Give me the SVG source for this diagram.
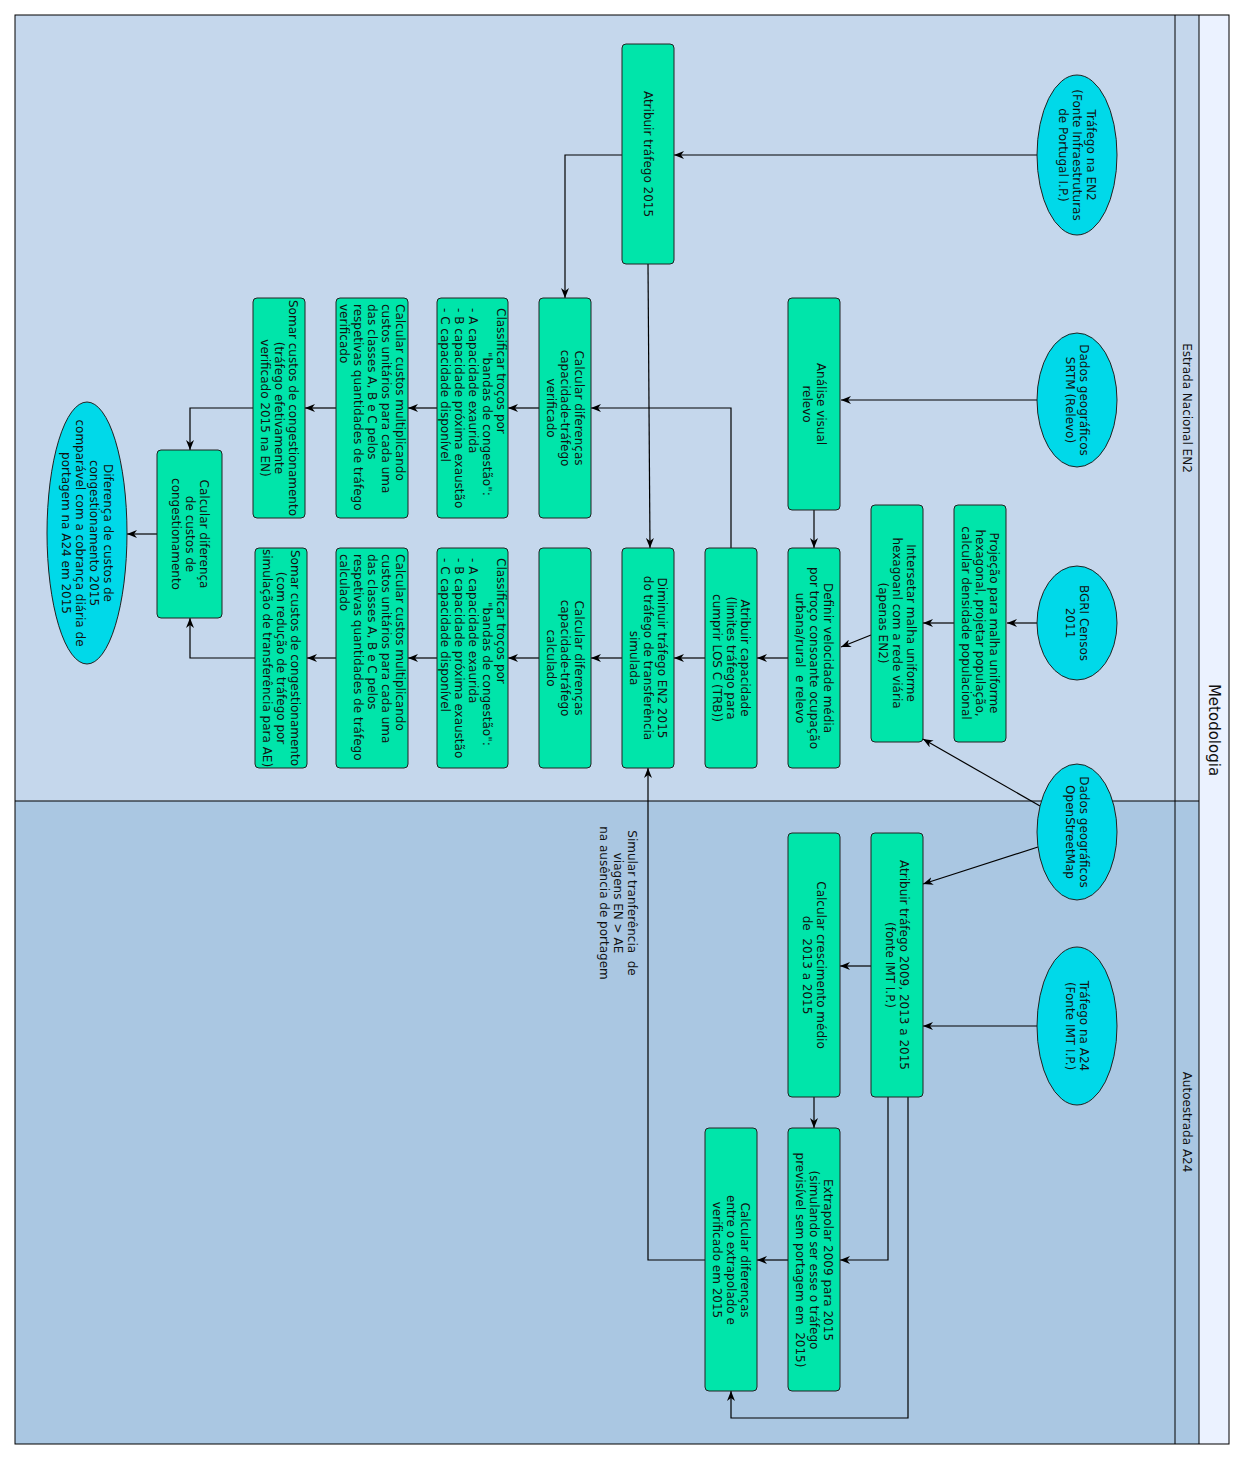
<svg xmlns="http://www.w3.org/2000/svg" width="1245" height="1460" viewBox="0 0 1245 1460">
<style>
text{font-family:"DejaVu Sans","Liberation Sans",sans-serif;font-size:12px;fill:#111}
.c{text-anchor:middle}
.s{text-anchor:start}
.box{fill:#00E5AA;stroke:#222;stroke-width:1}
.ell{fill:#00D9E9;stroke:#222;stroke-width:1}
.conn path{fill:none;stroke:#000;stroke-width:1.2;marker-end:url(#arr)}
</style>
<defs>
<marker id="arr" viewBox="0 0 10 8" refX="10" refY="4" markerWidth="10" markerHeight="8" orient="auto" markerUnits="userSpaceOnUse">
<path d="M0,0 L10,4 L0,8 L3,4 Z" fill="#000"/>
</marker>
</defs>
<g id="pool">
<rect x="15" y="15" width="1184" height="786" fill="#C5D7EC"/>
<rect x="15" y="801" width="1184" height="643" fill="#AAC7E2"/>
<rect x="1199" y="15" width="30" height="1429" fill="#EBF2FF"/>
<rect x="15" y="15" width="1214" height="1429" fill="none" stroke="#000" stroke-width="1"/>
<line x1="1175" y1="15" x2="1175" y2="1444" stroke="#000"/>
<line x1="1199" y1="15" x2="1199" y2="1444" stroke="#000"/>
<line x1="15" y1="801" x2="1199" y2="801" stroke="#000"/>
<text class="c" style="font-size:15px" transform="translate(1214,730) rotate(90)" y="5">Metodologia</text>
<text class="c" transform="translate(1187,408) rotate(90)" y="4">Estrada Nacional EN2</text>
<text class="c" transform="translate(1187,1122) rotate(90)" y="4">Autoestrada A24</text>
</g>
<g id="connectors" class="conn">
<path d="M1037,155 H674"/>
<path d="M622,155 H565 V298"/>
<path d="M648,264 L650,548"/>
<path d="M1037,400 H841"/>
<path d="M814,510 V548"/>
<path d="M1037,623 H1007"/>
<path d="M954,623 H923"/>
<path d="M871,635 L841,647"/>
<path d="M1040,806 L923,739"/>
<path d="M1038,847 L923,884"/>
<path d="M788,658 H757"/>
<path d="M705,658 H674"/>
<path d="M731,548 V408 H591"/>
<path d="M622,658 H591"/>
<path d="M539,408 H508"/>
<path d="M437,408 H408"/>
<path d="M336,408 H305"/>
<path d="M253,408 H190 V450"/>
<path d="M539,658 H508"/>
<path d="M437,658 H408"/>
<path d="M336,658 H307"/>
<path d="M255,658 H190 V618"/>
<path d="M157,534 H127"/>
<path d="M1037,1026 H923"/>
<path d="M871,966 H840"/>
<path d="M814,1097 V1128"/>
<path d="M888,1097 V1260 H840"/>
<path d="M908,1097 V1418 H731 V1391"/>
<path d="M788,1260 H757"/>
<path d="M705,1260 H648 V768"/>
</g>
<g id="label-simular">
<text class="c" xml:space="preserve" transform="translate(618,903) rotate(90)"><tspan x="0" y="-10">Simular tranferência  de</tspan><tspan x="0" y="4">viagens EN &gt; AE</tspan><tspan x="0" y="18">na ausência de portagem</tspan></text>
</g>
<g id="e-trafego-en2">
<ellipse class="ell" cx="1077" cy="155" rx="40" ry="80"/>
<text class="c" transform="translate(1077,155) rotate(90)"><tspan x="0" y="-10">Tráfego na EN2</tspan><tspan x="0" y="4">(Fonte Infraestruturas</tspan><tspan x="0" y="18">de Portugal I.P.)</tspan></text>
</g>
<g id="e-srtm">
<ellipse class="ell" cx="1077" cy="400" rx="40" ry="67"/>
<text class="c" transform="translate(1077,400) rotate(90)"><tspan x="0" y="-3">Dados geográficos</tspan><tspan x="0" y="11">SRTM (Relevo)</tspan></text>
</g>
<g id="e-bgri">
<ellipse class="ell" cx="1077" cy="623" rx="40" ry="57"/>
<text class="c" transform="translate(1077,623) rotate(90)"><tspan x="0" y="-3">BGRI Censos</tspan><tspan x="0" y="11">2011</tspan></text>
</g>
<g id="e-osm">
<ellipse class="ell" cx="1077" cy="832" rx="40" ry="68"/>
<text class="c" transform="translate(1077,832) rotate(90)"><tspan x="0" y="-3">Dados geográficos</tspan><tspan x="0" y="11">OpenStreetMap</tspan></text>
</g>
<g id="e-trafego-a24">
<ellipse class="ell" cx="1077" cy="1026" rx="40" ry="79"/>
<text class="c" transform="translate(1077,1026) rotate(90)"><tspan x="0" y="-3">Tráfego na A24</tspan><tspan x="0" y="11">(Fonte IMT I.P.)</tspan></text>
</g>
<g id="e-resultado">
<ellipse class="ell" cx="87" cy="533" rx="40" ry="131"/>
<text class="c" transform="translate(87,533) rotate(90)"><tspan x="0" y="-17">Diferença de custos de</tspan><tspan x="0" y="-3">congestionamento 2015</tspan><tspan x="0" y="11">comparável com a cobrança diária de</tspan><tspan x="0" y="25">portagem na A24 em 2015</tspan></text>
</g>
<g id="n-atribuir-2015">
<rect class="box" x="622" y="44" width="52" height="220" rx="4"/>
<text class="c" transform="translate(648,154) rotate(90)" y="4">Atribuir tráfego 2015</text>
</g>
<g id="n-analise-relevo">
<rect class="box" x="788" y="298" width="52" height="212" rx="4"/>
<text class="c" transform="translate(814,404) rotate(90)"><tspan x="0" y="-3">Análise visual</tspan><tspan x="0" y="11">relevo</tspan></text>
</g>
<g id="n-projecao">
<rect class="box" x="954" y="505" width="52" height="237" rx="4"/>
<text class="c" transform="translate(980,623) rotate(90)"><tspan x="0" y="-10">Projeção para malha uniforme</tspan><tspan x="0" y="4">hexagonal, projetar população,</tspan><tspan x="0" y="18">calcular densidade populacional</tspan></text>
</g>
<g id="n-intersetar">
<rect class="box" x="871" y="505" width="52" height="237" rx="4"/>
<text class="c" transform="translate(897,623) rotate(90)"><tspan x="0" y="-10">Intersetar malha uniforme</tspan><tspan x="0" y="4">hexagoanl com a rede viária</tspan><tspan x="0" y="18">(apenas EN2)</tspan></text>
</g>
<g id="n-definir-velocidade">
<rect class="box" x="788" y="548" width="52" height="220" rx="4"/>
<text class="c" xml:space="preserve" transform="translate(814,658) rotate(90)"><tspan x="0" y="-10">Definir velocidade média</tspan><tspan x="0" y="4">por troço consoante ocupação</tspan><tspan x="0" y="18">urbana/rural  e relevo</tspan></text>
</g>
<g id="n-atribuir-capacidade">
<rect class="box" x="705" y="548" width="52" height="220" rx="4"/>
<text class="c" transform="translate(731,658) rotate(90)"><tspan x="0" y="-10">Atribuir capacidade</tspan><tspan x="0" y="4">(limites tráfego para</tspan><tspan x="0" y="18">cumprir LOS C (TRB))</tspan></text>
</g>
<g id="n-diminuir">
<rect class="box" x="622" y="548" width="52" height="220" rx="4"/>
<text class="c" transform="translate(648,658) rotate(90)"><tspan x="0" y="-10">Diminuir tráfego EN2 2015</tspan><tspan x="0" y="4">do tráfego de transferência</tspan><tspan x="0" y="18">simulada</tspan></text>
</g>
<g id="n-dif-verificado">
<rect class="box" x="539" y="298" width="52" height="220" rx="4"/>
<text class="c" transform="translate(565,408) rotate(90)"><tspan x="0" y="-10">Calcular diferenças</tspan><tspan x="0" y="4">capacidade-tráfego</tspan><tspan x="0" y="18">verificado</tspan></text>
</g>
<g id="n-classificar-verificado">
<rect class="box" x="437" y="298" width="71" height="220" rx="4"/>
<text class="s" transform="translate(472.5,308) rotate(90)"><tspan x="0" y="-24">Classificar troços por</tspan><tspan x="44" y="-10">"bandas de congestão":</tspan><tspan x="0" y="4">- A capacidade exaurida</tspan><tspan x="0" y="18">- B capacidade próxima exaustão</tspan><tspan x="0" y="32">- C capacidade disponível</tspan></text>
</g>
<g id="n-custos-verificado">
<rect class="box" x="336" y="298" width="72" height="220" rx="4"/>
<text class="s" transform="translate(372,304) rotate(90)"><tspan x="0" y="-24">Calcular custos multiplicando</tspan><tspan x="0" y="-10">custos unitários para cada uma</tspan><tspan x="0" y="4">das classes A, B e C pelos</tspan><tspan x="0" y="18">respetivas quantidades de tráfego</tspan><tspan x="0" y="32">verificado</tspan></text>
</g>
<g id="n-somar-verificado">
<rect class="box" x="253" y="298" width="52" height="220" rx="4"/>
<text class="c" transform="translate(279,408) rotate(90)"><tspan x="0" y="-10">Somar custos de congestionamento</tspan><tspan x="0" y="4">(tráfego efetivamente</tspan><tspan x="0" y="18">verificado 2015 na EN)</tspan></text>
</g>
<g id="n-dif-calculado">
<rect class="box" x="539" y="548" width="52" height="220" rx="4"/>
<text class="c" transform="translate(565,658) rotate(90)"><tspan x="0" y="-10">Calcular diferenças</tspan><tspan x="0" y="4">capacidade-tráfego</tspan><tspan x="0" y="18">calculado</tspan></text>
</g>
<g id="n-classificar-calculado">
<rect class="box" x="437" y="548" width="71" height="220" rx="4"/>
<text class="s" transform="translate(472.5,558) rotate(90)"><tspan x="0" y="-24">Classificar troços por</tspan><tspan x="44" y="-10">"bandas de congestão":</tspan><tspan x="0" y="4">- A capacidade exaurida</tspan><tspan x="0" y="18">- B capacidade próxima exaustão</tspan><tspan x="0" y="32">- C capacidade disponível</tspan></text>
</g>
<g id="n-custos-calculado">
<rect class="box" x="336" y="548" width="72" height="220" rx="4"/>
<text class="s" transform="translate(372,554) rotate(90)"><tspan x="0" y="-24">Calcular custos multiplicando</tspan><tspan x="0" y="-10">custos unitários para cada uma</tspan><tspan x="0" y="4">das classes A, B e C pelos</tspan><tspan x="0" y="18">respetivas quantidades de tráfego</tspan><tspan x="0" y="32">calculado</tspan></text>
</g>
<g id="n-somar-calculado">
<rect class="box" x="255" y="548" width="52" height="220" rx="4"/>
<text class="c" transform="translate(281,658) rotate(90)"><tspan x="0" y="-10">Somar custos de congestionamento</tspan><tspan x="0" y="4">(com redução de tráfego por</tspan><tspan x="0" y="18">simulação de transferência para AE)</tspan></text>
</g>
<g id="n-dif-custos">
<rect class="box" x="157" y="450" width="65" height="168" rx="4"/>
<text class="c" transform="translate(190,534) rotate(90)"><tspan x="0" y="-10">Calcular diferença</tspan><tspan x="0" y="4">de custos de</tspan><tspan x="0" y="18">congestionamento</tspan></text>
</g>
<g id="n-atribuir-2009">
<rect class="box" x="871" y="833" width="52" height="264" rx="4"/>
<text class="c" transform="translate(897,965) rotate(90)"><tspan x="0" y="-3">Atribuir tráfego 2009, 2013 a 2015</tspan><tspan x="0" y="11">(fonte IMT I.P.)</tspan></text>
</g>
<g id="n-crescimento">
<rect class="box" x="788" y="833" width="52" height="264" rx="4"/>
<text class="c" xml:space="preserve" transform="translate(814,965) rotate(90)"><tspan x="0" y="-3">Calcular crescimento médio</tspan><tspan x="0" y="11">de  2013 a 2015</tspan></text>
</g>
<g id="n-extrapolar">
<rect class="box" x="788" y="1128" width="52" height="263" rx="4"/>
<text class="c" xml:space="preserve" transform="translate(814,1260) rotate(90)"><tspan x="0" y="-10">Extrapolar 2009 para 2015</tspan><tspan x="0" y="4">(simulando ser esse o tráfego</tspan><tspan x="0" y="18">previsível sem portagem em  2015)</tspan></text>
</g>
<g id="n-dif-extrapolado">
<rect class="box" x="705" y="1128" width="52" height="263" rx="4"/>
<text class="c" transform="translate(731,1260) rotate(90)"><tspan x="0" y="-10">Calcular diferenças</tspan><tspan x="0" y="4">entre o extrapolado e</tspan><tspan x="0" y="18">verificado em 2015</tspan></text>
</g>
</svg>
